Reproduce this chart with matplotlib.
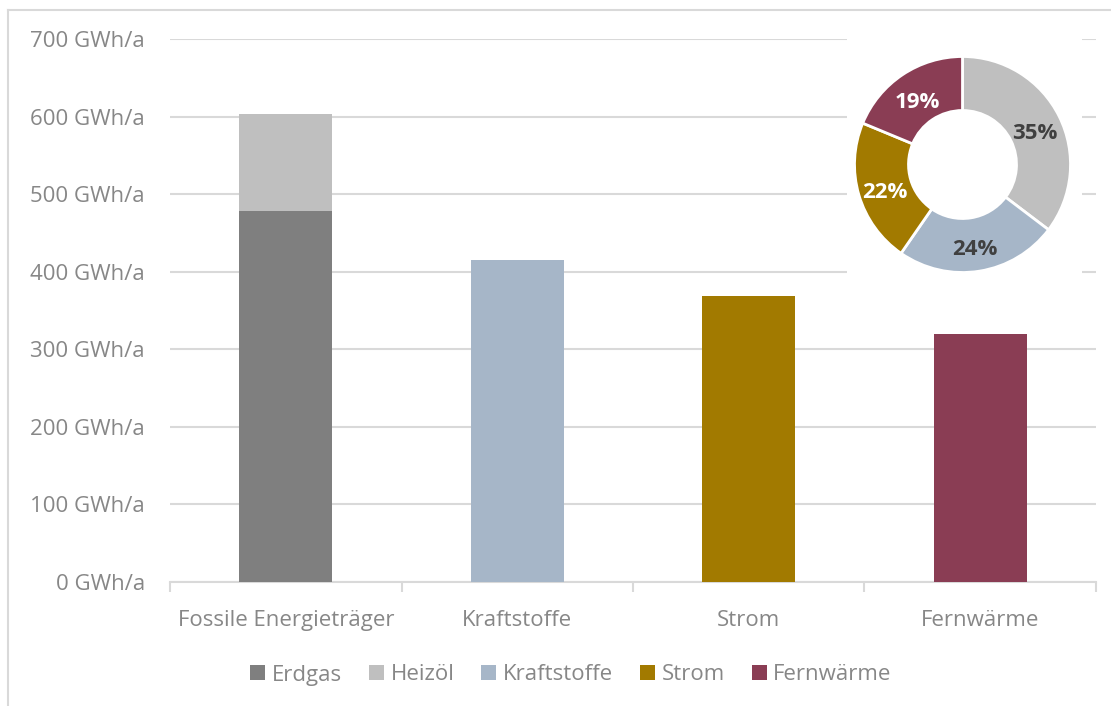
import matplotlib
matplotlib.use("Agg")
import matplotlib.pyplot as plt
from matplotlib.patches import Patch
from matplotlib.lines import Line2D
import numpy as np

# Endenergieverbrauch nach Energieträgern (GWh/a)
categories = ["Fossile Energieträger", "Kraftstoffe", "Strom", "Fernwärme"]
erdgas = [478, 0, 0, 0]
heizoel = [125, 0, 0, 0]
kraftstoffe = [0, 415, 0, 0]
strom = [0, 0, 369, 0]
fernwaerme = [0, 0, 0, 320]
y_ticks = [0, 100, 200, 300, 400, 500, 600, 700]

c_erdgas = "#7F7F7F"
c_heizoel = "#BFBFBF"
c_kraft = "#A6B6C8"
c_strom = "#A27A00"
c_fern = "#8A3D54"
text_col = "#878787"
grid_col = "#D9D9D9"

plt.rcParams["font.family"] = ["Open Sans", "DejaVu Sans"]

W, H = 1111, 706
fig = plt.figure(figsize=(W / 100, H / 100), dpi=100)

def fx(px):
    return px / W

def fy(py):
    return 1 - py / H

# main bar chart
ax = fig.add_axes([fx(170), fy(582), fx(1096) - fx(170), fy(39) - fy(582)])
x = np.arange(len(categories))
bw = 0.40
stack = [("Erdgas", erdgas, c_erdgas), ("Heizöl", heizoel, c_heizoel),
         ("Kraftstoffe", kraftstoffe, c_kraft), ("Strom", strom, c_strom),
         ("Fernwärme", fernwaerme, c_fern)]
bottom = np.zeros(len(categories))
for name, vals, col in stack:
    v = np.array(vals, dtype=float)
    ax.bar(x, v, bw, bottom=bottom, color=col, zorder=3)
    bottom += v

ax.set_xlim(-0.5, len(categories) - 0.5)
ax.set_ylim(0, 700)
ax.set_yticks(y_ticks)
ax.set_yticklabels([f"{v} GWh/a" for v in y_ticks])
ax.set_xticks(x)
ax.set_xticklabels(categories)
ax.set_xticks(np.arange(-0.5, len(categories), 1.0), minor=True)
ax.tick_params(axis="y", length=0, pad=18, labelsize=16, labelcolor=text_col)
ax.tick_params(axis="x", which="major", length=0, pad=20, labelsize=16, labelcolor=text_col)
ax.tick_params(axis="x", which="minor", length=7, width=1.5, color=grid_col)
ax.grid(axis="y", color=grid_col, linewidth=1.5, zorder=0)
ax.set_axisbelow(True)
for s in ["top", "right", "left"]:
    ax.spines[s].set_visible(False)
ax.spines["bottom"].set_color(grid_col)
ax.spines["bottom"].set_linewidth(1.5)

# donut inset with white backing box
box_l, box_r, box_t, box_b = 847, 1082, 30, 290
cx, cy, R = 962.5, 164.5, 108.0
ax2 = fig.add_axes([fx(box_l), fy(box_b), fx(box_r) - fx(box_l), fy(box_t) - fy(box_b)])
ax2.set_zorder(2)
shares = [sum(erdgas) + sum(heizoel), sum(kraftstoffe), sum(strom), sum(fernwaerme)]
pie_cols = [c_heizoel, c_kraft, c_strom, c_fern]
wedges, texts, autotexts = ax2.pie(
    shares, colors=pie_cols, startangle=90, counterclock=False,
    radius=1.0, autopct="%.0f%%", pctdistance=0.75,
    wedgeprops=dict(width=0.5, edgecolor="white", linewidth=2),
    textprops=dict(fontsize=16, fontweight="bold"))
for t, c in zip(autotexts, ["#404040", "#404040", "white", "white"]):
    t.set_color(c)
    px, py = t.get_position()
    t.set_position((px, py - 5 / R))
ax2.set_aspect("auto")
ax2.set_xlim(-(cx - box_l) / R, (box_r - cx) / R)
ax2.set_ylim(-(box_b - cy) / R, (cy - box_t) / R)
ax2.set_frame_on(True)
ax2.set_facecolor("white")
for s in ax2.spines.values():
    s.set_visible(False)
ax2.set_xticks([])
ax2.set_yticks([])

# legend
handles = [Patch(facecolor=col, edgecolor="none", label=name) for name, _, col in stack]
fig.legend(handles=handles, loc="center", bbox_to_anchor=(fx(571), fy(675)),
           ncol=5, frameon=False, fontsize=16, labelcolor=text_col,
           handlelength=0.68, handleheight=0.68, handletextpad=0.3,
           columnspacing=1.2, borderaxespad=0)

# outer frame lines
fig.add_artist(Line2D([fx(8), fx(8)], [0, fy(10)], color=grid_col, linewidth=1.5))
fig.add_artist(Line2D([fx(8), 1], [fy(10), fy(10)], color=grid_col, linewidth=1.5))

fig.savefig("out.png", dpi=100, facecolor="white")
